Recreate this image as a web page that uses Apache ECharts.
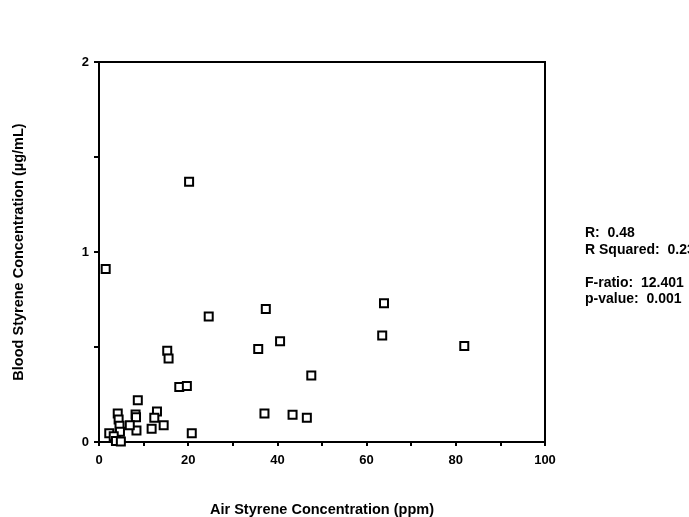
<!DOCTYPE html>
<html>
<head>
<meta charset="utf-8">
<script src="https://cdn.jsdelivr.net/npm/echarts@6/dist/echarts.min.js"></script>
<style>
  html, body { margin: 0; padding: 0; background: #fff; }
  #chart { width: 689px; height: 517px; }
</style>
</head>
<body>
<div id="chart"></div>
<script>
// air styrene (ppm) vs blood styrene (ug/mL)
var airPpm = [1.5, 20.2, 24.6, 15.3, 15.6, 18.0, 19.7, 37.4, 35.7, 40.6, 63.9, 63.5, 81.9, 47.6,
              37.1, 43.4, 46.6, 20.8, 13.0, 12.4, 11.8, 14.5, 8.7, 8.2, 8.3, 8.4, 6.9,
              4.2, 4.4, 4.6, 4.7, 2.3, 3.3, 3.8, 4.9];
var bloodConc = [0.91, 1.37, 0.66, 0.48, 0.44, 0.29, 0.295, 0.70, 0.49, 0.53, 0.73, 0.56, 0.505, 0.35,
                 0.15, 0.144, 0.128, 0.046, 0.16, 0.128, 0.07, 0.088, 0.22, 0.145, 0.13, 0.06, 0.088,
                 0.15, 0.118, 0.085, 0.054, 0.046, 0.03, 0.005, 0.002];
var statLines = ['R:  0.48', 'R Squared:  0.23', '', 'F-ratio:  12.401', 'p-value:  0.001'];

var points = airPpm.map(function (x, i) { return [x, bloodConc[i]]; });

var chart = echarts.init(document.getElementById('chart'));
var labelFont = { color: '#000', fontFamily: 'Liberation Sans', fontWeight: 'bold', fontSize: 13 };
var titleFont = { color: '#000', fontFamily: 'Liberation Sans', fontWeight: 'bold', fontSize: 14.5 };

var option = {
    animation: false,
    backgroundColor: '#fff',
    grid: {
        left: 99, right: 144, top: 62, bottom: 75,
        outerBoundsMode: 'none', containLabel: false,
        show: true, borderColor: '#000', borderWidth: 2
    },
    xAxis: {
        type: 'value', min: 0, max: 100, interval: 10,
        name: 'Air Styrene Concentration (ppm)',
        nameLocation: 'middle', nameGap: 60,
        nameTextStyle: titleFont,
        axisLine: { show: true, lineStyle: { color: '#000', width: 2 } },
        axisTick: { show: true, length: 4, lineStyle: { color: '#000', width: 2 } },
        axisLabel: Object.assign({ margin: 12, formatter: function (v) { return v % 20 === 0 ? String(v) : ''; } }, labelFont),
        splitLine: { show: false }
    },
    yAxis: {
        type: 'value', min: 0, max: 2, interval: 0.5,
        name: 'Blood Styrene Concentration (µg/mL)',
        nameLocation: 'middle', nameGap: 73,
        nameTextStyle: titleFont,
        axisLine: { show: true, lineStyle: { color: '#000', width: 2 } },
        axisTick: { show: true, length: 5, lineStyle: { color: '#000', width: 2 } },
        axisLabel: Object.assign({ margin: 10, formatter: function (v) { return v % 1 === 0 ? String(v) : ''; } }, labelFont),
        splitLine: { show: false }
    },
    graphic: [{
        type: 'text', left: 585, top: 225,
        style: {
            text: statLines.join('\n'),
            fill: '#000', font: 'bold 14px "Liberation Sans"', lineHeight: 16.5
        }
    }],
    series: [{
        type: 'scatter',
        data: points,
        symbol: 'rect',
        symbolSize: 8,
        itemStyle: { color: '#fff', borderColor: '#000', borderWidth: 2, opacity: 1 }
    }]
};

chart.setOption(option);
</script>
</body>
</html>
